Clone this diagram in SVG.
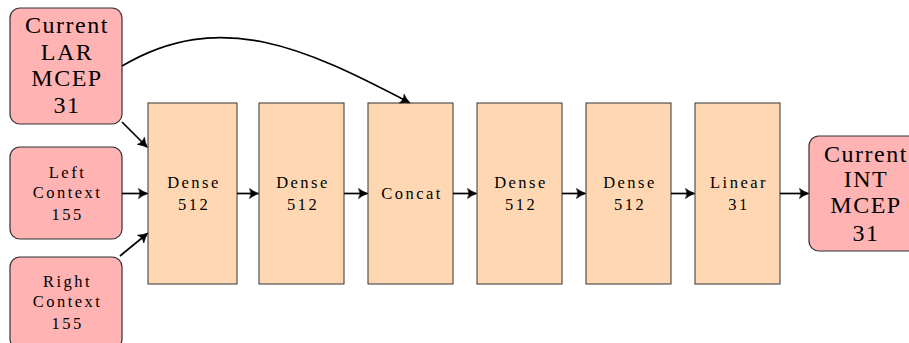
<svg xmlns="http://www.w3.org/2000/svg" width="909" height="343" viewBox="0 0 909 343">
  <defs>
    <style>
      .io { fill: #ffb3b3; stroke: #333; stroke-width: 1.2; }
      .layer { fill: #ffd8b3; stroke: #333; stroke-width: 1; }
      text { font-family: 'Liberation Serif', 'Times New Roman', serif; fill: #000; text-anchor: middle; }
      .big { font-size: 24px; letter-spacing: 1.5px; }
      .small { font-size: 16.5px; letter-spacing: 2.5px; }
      .edge { fill: none; stroke: #000; stroke-width: 1.7; marker-end: url(#arrow); }
    </style>
    <marker id="arrow" markerUnits="userSpaceOnUse" markerWidth="16" markerHeight="14" viewBox="-11 -7 16 14" refX="0" refY="0" orient="auto" overflow="visible">
      <path d="M 1.5 0 Q -3.5 -1.6 -8 -5 Q -5.2 0 -8 5 Q -3.5 1.6 1.5 0 Z" fill="#000" stroke="#000" stroke-width="0.6" stroke-linejoin="round"/>
    </marker>
  </defs>

  <!-- input nodes -->
  <g id="lar">
    <rect class="io" x="10" y="8" width="112" height="116" rx="10"/>
    <text class="big" x="67" y="33">Current</text>
    <text class="big" x="67" y="60">LAR</text>
    <text class="big" x="67" y="86">MCEP</text>
    <text class="big" x="67" y="113">31</text>
  </g>
  <g id="left-context">
    <rect class="io" x="10" y="147" width="112" height="92" rx="10"/>
    <text class="small" x="67.5" y="178">Left</text>
    <text class="small" x="67.5" y="198">Context</text>
    <text class="small" x="67.5" y="220">155</text>
  </g>
  <g id="right-context">
    <rect class="io" x="10" y="257" width="112" height="92" rx="10"/>
    <text class="small" x="67.5" y="287">Right</text>
    <text class="small" x="67.5" y="307">Context</text>
    <text class="small" x="67.5" y="329">155</text>
  </g>

  <!-- layers -->
  <g id="dense1">
    <rect class="layer" x="148" y="103" width="89" height="181"/>
    <text class="small" x="194" y="188">Dense</text>
    <text class="small" x="194" y="210">512</text>
  </g>
  <g id="dense2">
    <rect class="layer" x="259" y="103" width="85" height="181"/>
    <text class="small" x="303" y="188">Dense</text>
    <text class="small" x="303" y="210">512</text>
  </g>
  <g id="concat">
    <rect class="layer" x="368" y="103" width="85" height="181"/>
    <text class="small" x="412" y="199">Concat</text>
  </g>
  <g id="dense3">
    <rect class="layer" x="477" y="103" width="85" height="181"/>
    <text class="small" x="521" y="188">Dense</text>
    <text class="small" x="521" y="210">512</text>
  </g>
  <g id="dense4">
    <rect class="layer" x="586" y="103" width="85" height="181"/>
    <text class="small" x="630" y="188">Dense</text>
    <text class="small" x="630" y="210">512</text>
  </g>
  <g id="linear">
    <rect class="layer" x="695" y="103" width="85" height="181"/>
    <text class="small" x="739" y="188">Linear</text>
    <text class="small" x="739" y="210">31</text>
  </g>

  <!-- output node -->
  <g id="int">
    <rect class="io" x="809" y="136" width="112" height="115" rx="10"/>
    <text class="big" x="866" y="162">Current</text>
    <text class="big" x="866" y="187">INT</text>
    <text class="big" x="866" y="213">MCEP</text>
    <text class="big" x="866" y="241">31</text>
  </g>

  <!-- connectors -->
  <g id="edges">
    <path class="edge" d="M 122 122 L 146.5 146.5"/>
    <path class="edge" d="M 122 193.5 L 146.5 193.5"/>
    <path class="edge" d="M 120 256 L 146.8 234"/>
    <path class="edge" d="M 122 66 C 220 8 305 48 408.8 102.3"/>
    <path class="edge" d="M 237 193.5 L 257.5 193.5"/>
    <path class="edge" d="M 344 193.5 L 366.5 193.5"/>
    <path class="edge" d="M 453 193.5 L 475.5 193.5"/>
    <path class="edge" d="M 562 193.5 L 584.5 193.5"/>
    <path class="edge" d="M 671 193.5 L 693.5 193.5"/>
    <path class="edge" d="M 780 193.5 L 807.5 193.5"/>
  </g>
</svg>
